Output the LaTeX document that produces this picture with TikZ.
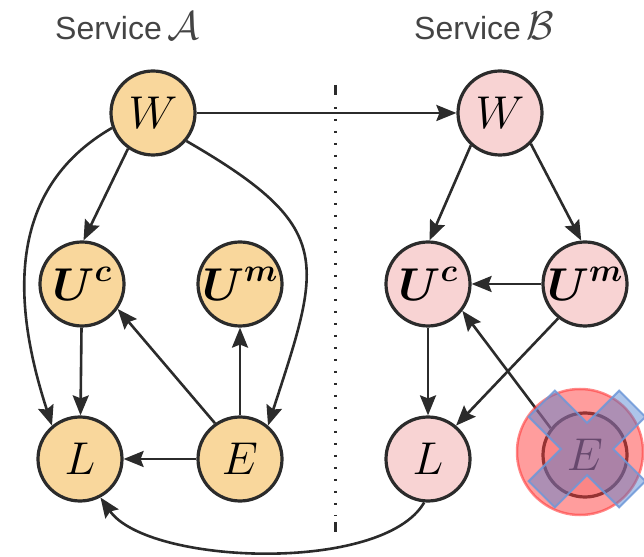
\RequirePackage{fix-cm}
\documentclass[tikz,border=0pt]{standalone}
\usepackage{fontspec}
\usepackage{amsmath}
\usetikzlibrary{arrows.meta}
\newfontfamily\titlefont{Liberation Sans}
\definecolor{edgegray}{HTML}{2B2B2B}
\definecolor{titlegray}{HTML}{444444}
\definecolor{orangeA}{HTML}{F9D79C}
\definecolor{pinkB}{HTML}{F8D3D3}
\definecolor{haloRed}{HTML}{FF3B3B}
\definecolor{crossBlue}{HTML}{4A7ED0}
\newcommand{\bvar}[2]{$\boldsymbol{#1}^{\boldsymbol{#2}}$}

\begin{document}
\begin{tikzpicture}[x=1pt,y=1pt,
  var/.style={circle, draw=edgegray, line width=3.2pt, minimum size=84pt,
    inner sep=0pt, font=\fontsize{46}{46}\selectfont},
  svcA/.style={var, fill=orangeA},
  svcB/.style={var, fill=pinkB},
  link/.style={draw=edgegray, line width=2.6pt,
    -{Stealth[length=20pt,width=16pt,inset=3pt]}},
  heading/.style={anchor=base west, text=titlegray, inner sep=0pt,
    font=\titlefont\fontsize{32}{32}\selectfont},
  divider/.style={draw=edgegray, line width=3pt}
]
\useasboundingbox (0,0) rectangle (644,556);

% headings
\node[heading] (titleA) at (55,516) {Service\,{\fontsize{40}{40}\selectfont$\mathcal{A}$}};
\node[heading] (titleB) at (414,516) {Service\,{\fontsize{40}{40}\selectfont$\mathcal{B}$}};

% separator between the two services
\draw[divider] (335,471) -- (335,461);
\draw[divider, dash pattern=on 2.5pt off 9.5pt] (335,449) -- (335,40);
\draw[divider] (335,34) -- (335,24);

% service A
\node[svcA] (WA)  at (153,443) {$W$};
\node[svcA] (UcA) at (82,272)  {\bvar{U}{c}};
\node[svcA] (UmA) at (240,272) {\bvar{U}{m}};
\node[svcA] (LA)  at (80,97)   {$L$};
\node[svcA] (EA)  at (240,97)  {$E$};

% service B
\node[svcB] (WB)  at (500,443) {$W$};
\node[svcB] (UcB) at (428,272) {\bvar{U}{c}};
\node[svcB] (UmB) at (585,272) {\bvar{U}{m}};
\node[svcB] (LB)  at (428,97)  {$L$};
\node[svcB] (EB)  at (585,101) {$E$};

% edges inside service A
\draw[link] (WA.235) -- (UcA.88);
\draw[link] (WA.200) to[out=210, in=108, looseness=1.05] (LA.130);
\draw[link] (WA.-40) to[out=-30, in=72, looseness=1.5] (EA.50);
\draw[link] (UcA) -- (LA);
\draw[link] (EA.125) -- (UcA.-35);
\draw[link] (EA) -- (UmA);
\draw[link] (EA) -- (LA);

% edges inside service B
\draw[link] (WB.228) -- (UcB.88);
\draw[link] (WB.-45) -- (UmB.95);
\draw[link] (UmB) -- (UcB);
\draw[link] (UmB.232) -- (LB.50);
\draw[link] (UcB) -- (LB);
\draw[link] (EB.142) -- (UcB.-38);

% edges across services
\draw[link] (WA) -- (WB);
\draw[link] (LB.-95) to[out=-120, in=-55, looseness=0.65] (LA.-62);

% removed variable: red halo and blue cross
\fill[haloRed, fill opacity=0.5] (580,104) circle (63);
\draw[haloRed, opacity=0.6, line width=2.5pt] (580,104) circle (63);
\begin{scope}[shift={(587,107)}, rotate=45]
  \filldraw[fill=crossBlue, fill opacity=0.45, draw=crossBlue!80!white,
    draw opacity=0.85, line width=2pt, line join=miter]
    (18.5,64) -- (18.5,18.5) -- (64,18.5) -- (64,-18.5) -- (18.5,-18.5)
    -- (18.5,-64) -- (-18.5,-64) -- (-18.5,-18.5) -- (-64,-18.5)
    -- (-64,18.5) -- (-18.5,18.5) -- (-18.5,64) -- cycle;
\end{scope}
\end{tikzpicture}
\end{document}
